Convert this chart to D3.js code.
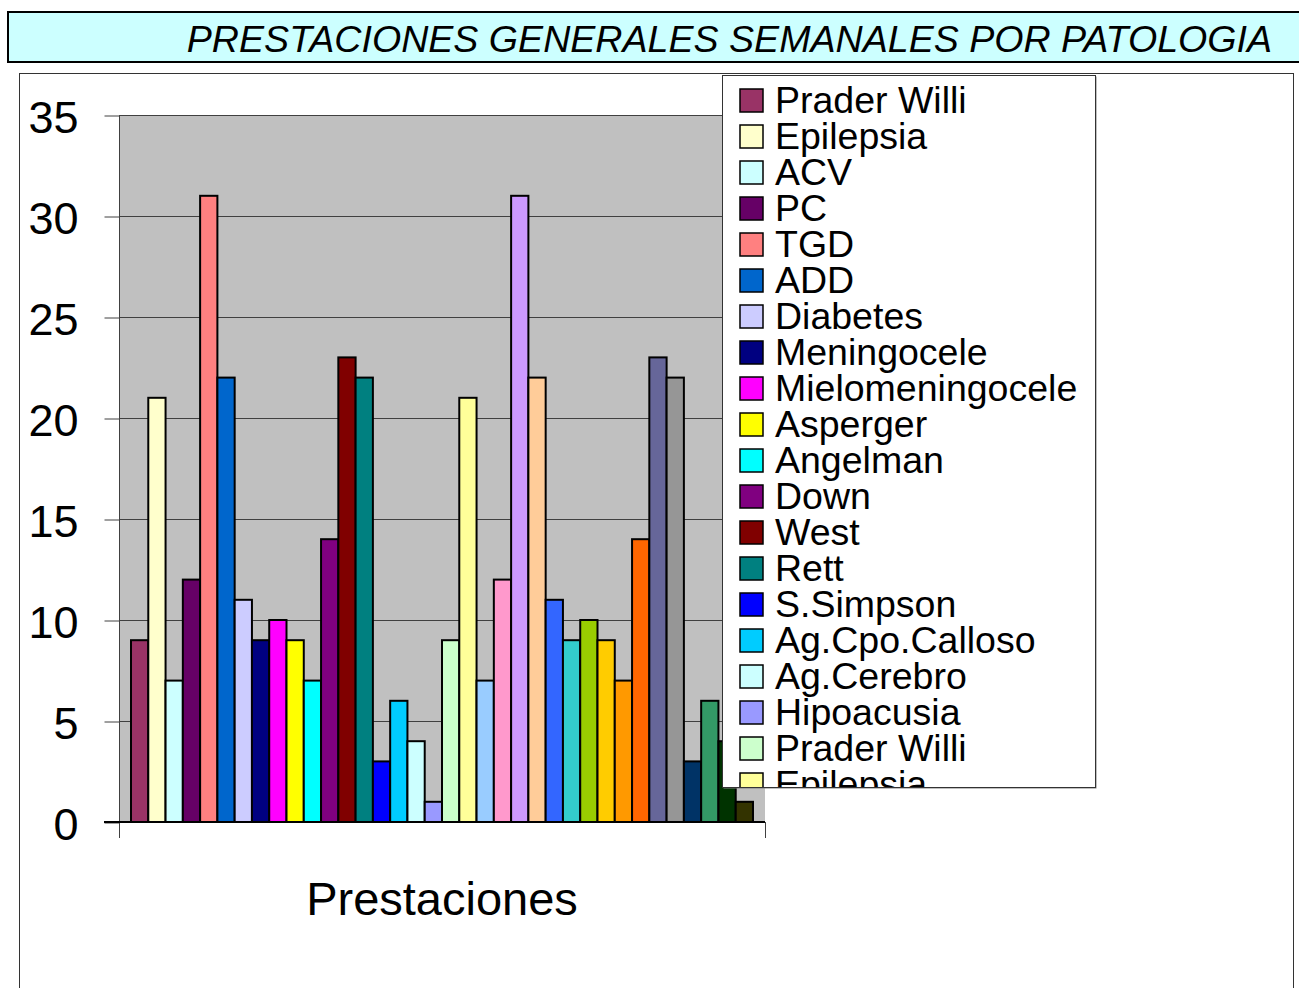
<!DOCTYPE html>
<html>
<head lang="es">
	<meta charset="UTF-8">
	<title>Prestaciones</title>
	<style>
	body { margin: 0; background: #fff; }
	text { font-family: "Liberation Sans", Arial, sans-serif; fill: #000; }
	.grid line { stroke: #404040; stroke-width: 1; }
	.bar { stroke: #000; stroke-width: 2; }
	</style>
	<script src="https://cdn.jsdelivr.net/npm/d3@7"></script>
</head>
<body>
<script>
	// one category, 36 series (the 18 pathologies appear twice)
	var categories = ["Prestaciones"];
	var seriesNames = [
		"Prader Willi", "Epilepsia", "ACV", "PC", "TGD", "ADD", "Diabetes", "Meningocele",
		"Mielomeningocele", "Asperger", "Angelman", "Down", "West", "Rett", "S.Simpson",
		"Ag.Cpo.Calloso", "Ag.Cerebro", "Hipoacusia",
		"Prader Willi", "Epilepsia", "ACV", "PC", "TGD", "ADD", "Diabetes", "Meningocele",
		"Mielomeningocele", "Asperger", "Angelman", "Down", "West", "Rett", "S.Simpson",
		"Ag.Cpo.Calloso", "Ag.Cerebro", "Hipoacusia"
	];
	var values = [
		9, 21, 7, 12, 31, 22, 11, 9, 10, 9, 7, 14, 23, 22, 3, 6, 4, 1,
		9, 21, 7, 12, 31, 22, 11, 9, 10, 9, 7, 14, 23, 22, 3, 6, 4, 1
	];
	var colors = [
		"#993366", "#FFFFCC", "#CCFFFF", "#660066", "#FF8080", "#0066CC", "#CCCCFF", "#000080",
		"#FF00FF", "#FFFF00", "#00FFFF", "#800080", "#800000", "#008080", "#0000FF", "#00CCFF",
		"#CCFFFF", "#9999FF", "#CCFFCC", "#FFFF99", "#99CCFF", "#FF99CC", "#CC99FF", "#FFCC99",
		"#3366FF", "#33CCCC", "#99CC00", "#FFCC00", "#FF9900", "#FF6600", "#666699", "#969696",
		"#003366", "#339966", "#003300", "#333300"
	];
	var yTicks = [0, 5, 10, 15, 20, 25, 30, 35];

	var width = 1299, height = 988;
	var plot = {left: 119, right: 765, top: 115, bottom: 822};

	var svg = d3.select("body").append("svg")
		.attr("width", width)
		.attr("height", height);

	// title banner
	svg.append("rect")
		.attr("x", 8).attr("y", 12)
		.attr("width", 1300).attr("height", 50)
		.attr("fill", "#CCFFFF")
		.attr("stroke", "#000")
		.attr("stroke-width", 2);
	svg.append("text")
		.attr("x", 1272).attr("y", 52)
		.attr("text-anchor", "end")
		.attr("font-style", "italic")
		.attr("font-size", 37.6)
		.text("PRESTACIONES GENERALES SEMANALES POR PATOLOGIA");

	// chart frame
	svg.append("rect")
		.attr("x", 19.5).attr("y", 73.5)
		.attr("width", 1274).attr("height", 930)
		.attr("fill", "#fff")
		.attr("stroke", "#333")
		.attr("stroke-width", 1);

	var y = d3.scaleLinear().domain([0, 35]).range([plot.bottom, plot.top]);

	var x0 = d3.scaleBand().domain(categories)
		.range([plot.left, plot.right])
		.paddingInner(0).paddingOuter(0.0193);
	var x1 = d3.scaleBand().domain(d3.range(seriesNames.length))
		.range([0, x0.bandwidth()]);

	// plot area
	svg.append("rect")
		.attr("x", plot.left).attr("y", plot.top)
		.attr("width", plot.right - plot.left)
		.attr("height", plot.bottom - plot.top)
		.attr("fill", "#C0C0C0");

	svg.append("g").attr("class", "grid")
		.selectAll("line")
		.data(yTicks.filter(function(d){ return d > 0; }))
		.enter().append("line")
		.attr("x1", plot.left).attr("x2", plot.right)
		.attr("y1", function(d){ return Math.round(y(d)) + 0.5; })
		.attr("y2", function(d){ return Math.round(y(d)) + 0.5; });

	// y axis
	var yAxis = d3.axisLeft(y).tickValues(yTicks).tickSize(15).tickPadding(26);
	var gy = svg.append("g")
		.attr("transform", "translate(" + (plot.left + 0.5) + ",0.5)")
		.call(yAxis);
	gy.select(".domain").remove();
	gy.selectAll(".tick line").attr("stroke", "#404040");
	gy.selectAll(".tick text")
		.attr("font-family", "\"Liberation Sans\", Arial, sans-serif")
		.attr("font-size", 45)
		.attr("fill", "#000")
		.attr("dy", "0.38em");
	svg.append("line")
		.attr("x1", plot.left + 0.5).attr("x2", plot.left + 0.5)
		.attr("y1", plot.top).attr("y2", plot.bottom + 16)
		.attr("stroke", "#404040");

	// bars
	svg.append("g").selectAll("rect")
		.data(values)
		.enter().append("rect")
		.attr("class", "bar")
		.attr("x", function(d, i){ return x0(categories[0]) + x1(i); })
		.attr("y", function(d){ return y(d); })
		.attr("width", x1.bandwidth())
		.attr("height", function(d){ return y(0) - y(d); })
		.attr("fill", function(d, i){ return colors[i]; });

	// x axis
	var xAxis = d3.axisBottom(x0).tickSize(0).tickFormat("");
	var gx = svg.append("g")
		.attr("transform", "translate(0," + plot.bottom + ")")
		.call(xAxis);
	gx.select(".domain").attr("stroke", "#000").attr("stroke-width", 2)
		.attr("d", "M" + (plot.left - 15) + ",0H" + plot.right);
	svg.append("line")
		.attr("x1", plot.right + 0.5).attr("x2", plot.right + 0.5)
		.attr("y1", plot.bottom).attr("y2", plot.bottom + 16)
		.attr("stroke", "#404040");
	svg.append("text")
		.attr("x", x0(categories[0]) + x0.bandwidth() / 2)
		.attr("y", 915)
		.attr("text-anchor", "middle")
		.attr("font-size", 47)
		.text(categories[0]);

	// legend: the box is too short for all 36 entries, the original cuts it off
	var legend = {x: 722, y: 75, w: 373, h: 712};
	var rowStep = 36, rowStart = 100;
	svg.append("rect")
		.attr("x", legend.x + 1.5).attr("y", legend.y + 1.5)
		.attr("width", legend.w).attr("height", legend.h)
		.attr("fill", "#808080");
	svg.append("rect")
		.attr("x", legend.x + 0.5).attr("y", legend.y + 0.5)
		.attr("width", legend.w).attr("height", legend.h)
		.attr("fill", "#fff")
		.attr("stroke", "#333");
	svg.append("clipPath").attr("id", "legclip")
		.append("rect")
		.attr("x", legend.x + 1).attr("y", legend.y + 1)
		.attr("width", legend.w - 1).attr("height", legend.h - 1);

	var shown = seriesNames.filter(function(d, i){
		return rowStart + i * rowStep - 14 < legend.y + legend.h;
	});
	var items = svg.append("g").attr("clip-path", "url(#legclip)")
		.selectAll("g")
		.data(shown)
		.enter().append("g")
		.attr("transform", function(d, i){ return "translate(740," + (rowStart + i * rowStep) + ")"; });
	items.append("rect")
		.attr("x", 0).attr("y", -11)
		.attr("width", 23).attr("height", 23)
		.attr("fill", function(d, i){ return colors[i]; })
		.attr("stroke", "#000")
		.attr("stroke-width", 1.5);
	items.append("text")
		.attr("x", 35).attr("y", 13)
		.attr("font-size", 37.5)
		.text(function(d){ return d; });
</script>
</body>
</html>
